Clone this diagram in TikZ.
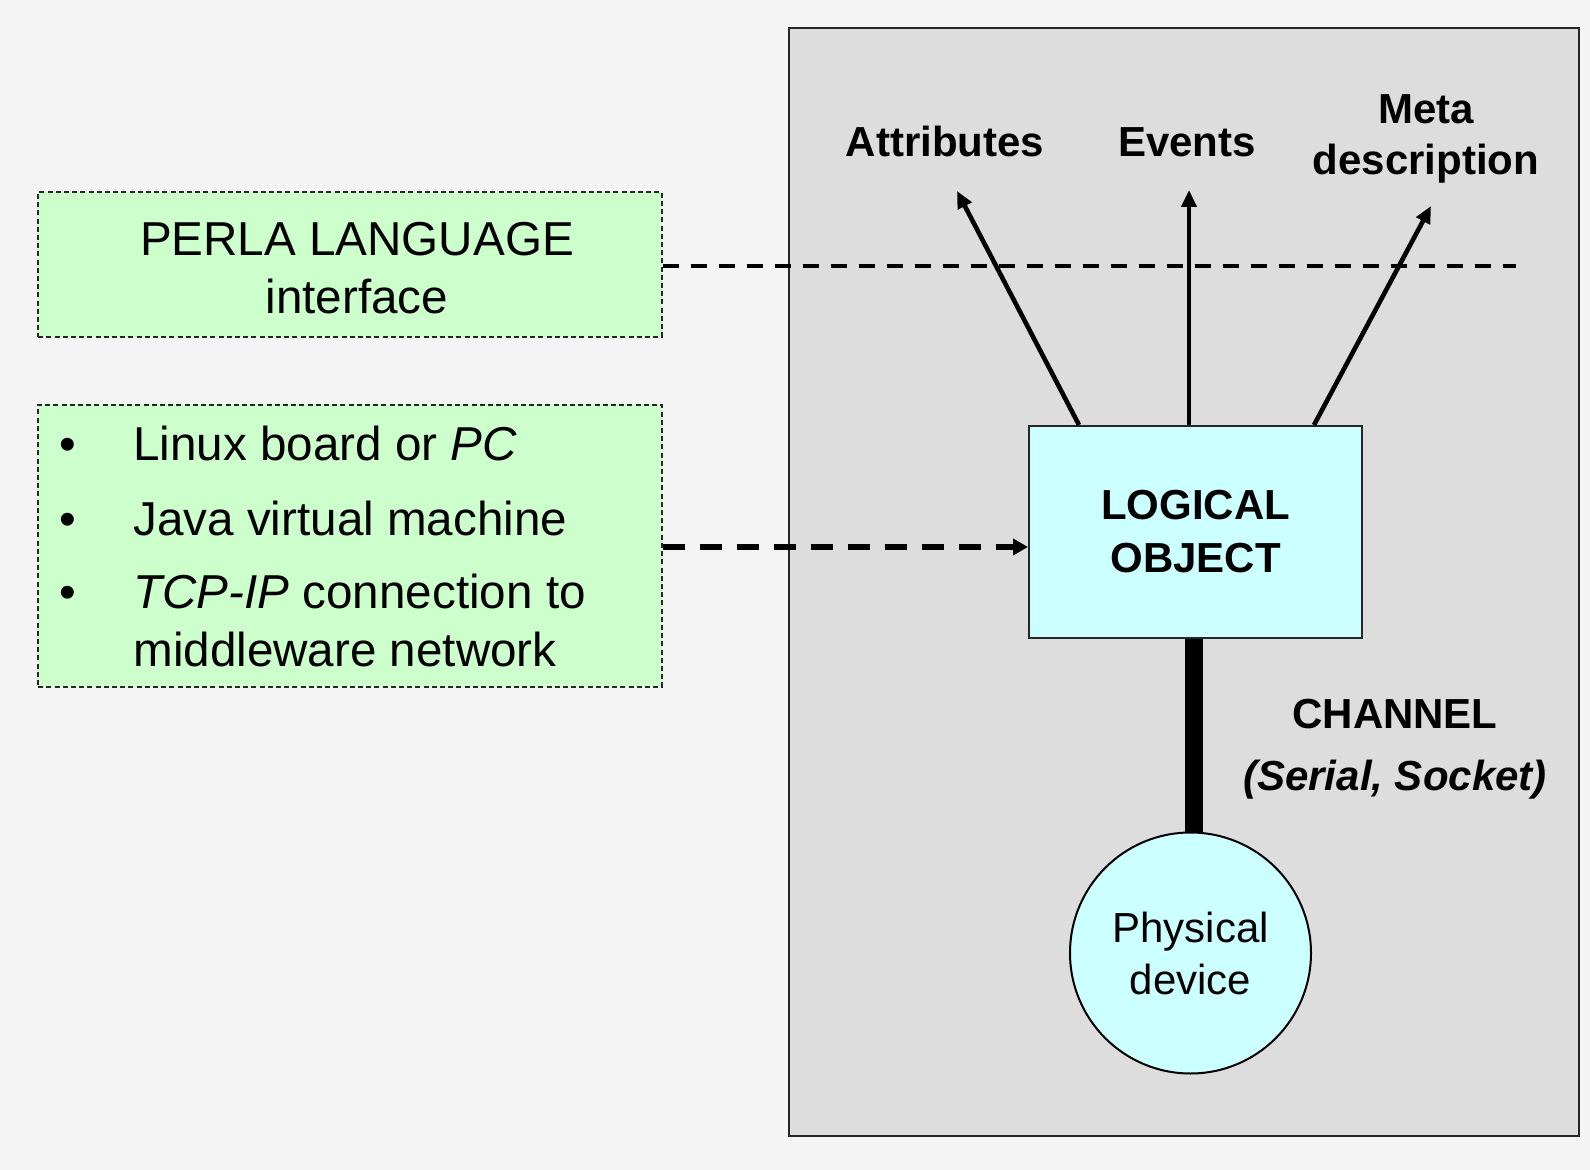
\documentclass[tikz,border=0pt]{standalone}
\usepackage{fontspec}
\setmainfont{Liberation Sans}
\usetikzlibrary{arrows.meta,calc}
\definecolor{bgc}{HTML}{F4F4F4}
\definecolor{panelc}{HTML}{DDDDDD}
\definecolor{greenc}{HTML}{CCFFCC}
\definecolor{cyanc}{HTML}{CCFFFF}
\tikzset{
  greenbox/.style={draw=black!85, fill=greenc, line width=0.8pt, dash pattern=on 2.5pt off 1.6pt, inner sep=0pt},
  bigtxt/.style={font=\fontsize{23.8}{28.75}\selectfont, inner sep=0pt},
  lbl/.style={font=\fontsize{21}{25.5}\selectfont\bfseries, inner sep=0pt, align=center},
  arr/.style={line width=2.3pt, -{Triangle[length=8.5pt,width=7.5pt]}},
  dasharr/.style={line width=2.6pt, dash pattern=on 11pt off 7.5pt, -{Triangle[length=7.5pt,width=8pt]}},
  thindash/.style={line width=2pt, dash pattern=on 8pt off 6pt},
  channel/.style={line width=9pt},
}
\begin{document}
\begin{tikzpicture}[x=0.5pt,y=-0.5pt]
\fill[bgc] (0,0) rectangle (1590,1170);
\useasboundingbox (0,0) rectangle (1590,1170);

% panel
\node (panel) [draw=black!85, fill=panelc, line width=1pt, minimum width=395pt, minimum height=554pt, inner sep=0pt] at (1184,582) {};

% green boxes
\node (perla) [greenbox, minimum width=311.75pt, minimum height=72.5pt] at (350,264.5) {};
\node (perlatxt) [bigtxt, align=center] at (357,268) {PERLA LANGUAGE\\interface};
\node (bullets) [greenbox, minimum width=311.75pt, minimum height=141pt] at (350,546) {};

\node (b1) [bigtxt, anchor=base west] at (59,461) {•};
\node (b2) [bigtxt, anchor=base west] at (59,536) {•};
\node (b3) [bigtxt, anchor=base west] at (59,609) {•};
\node (t1) [bigtxt, anchor=base west] at (133,461) {Linux board or \textit{PC}};
\node (t2) [bigtxt, anchor=base west] at (133,536) {Java virtual machine};
\node (t3) [bigtxt, anchor=base west] at (133,609) {\textit{TCP-IP} connection to};
\node (t4) [bigtxt, anchor=base west] at (133,666) {middleware network};

% logical object
\node (logical) [draw=black!85, fill=cyanc, line width=1pt, minimum width=166.5pt, minimum height=106pt, inner sep=0pt, lbl, font=\fontsize{21}{26.5}\selectfont\bfseries] at (1195.5,532) {LOGICAL\\OBJECT};

% physical device
\node (device) [circle, draw=black, fill=cyanc, line width=1pt, minimum size=120.5pt, inner sep=0pt, align=center, font=\fontsize{21}{26}\selectfont] at (1190.5,953) {Physical\\device};

% labels
\node (attr) [lbl, anchor=base] at (945,157) {Attributes};
\node (events) [lbl, anchor=base] at (1187,157) {Events};
\node (meta) [lbl, anchor=base] at (1426,175) {Meta\\description};
\node (chan) [lbl, anchor=base, font=\fontsize{21}{31}\selectfont\bfseries] at (1395,790) {CHANNEL\\\textit{(Serial, Socket)}};

% tips
\coordinate (attrtip) at (957,191);
\coordinate (evtip) at (1189,190);
\coordinate (metatip) at (1431,206);
\coordinate (dashend) at (1516,266);

% dashed line
\draw[thindash] (perla.east |- dashend) -- (dashend);

% arrows
\draw[arr] ([xshift=25.5pt]logical.north west) -- (attrtip);
\draw[arr] ([xshift=-3.25pt]logical.north) -- (evtip);
\draw[arr] ([xshift=-24.5pt]logical.north east) -- (metatip);

% dashed arrow
\draw[dasharr] ([yshift=-0.5pt]bullets.east) -- ([yshift=-0.5pt]bullets.east -| logical.west);

% channel
\draw[channel] ([xshift=-0.75pt]logical.south) -- ([xshift=-0.75pt]logical.south |- device.north);
\end{tikzpicture}
\end{document}
